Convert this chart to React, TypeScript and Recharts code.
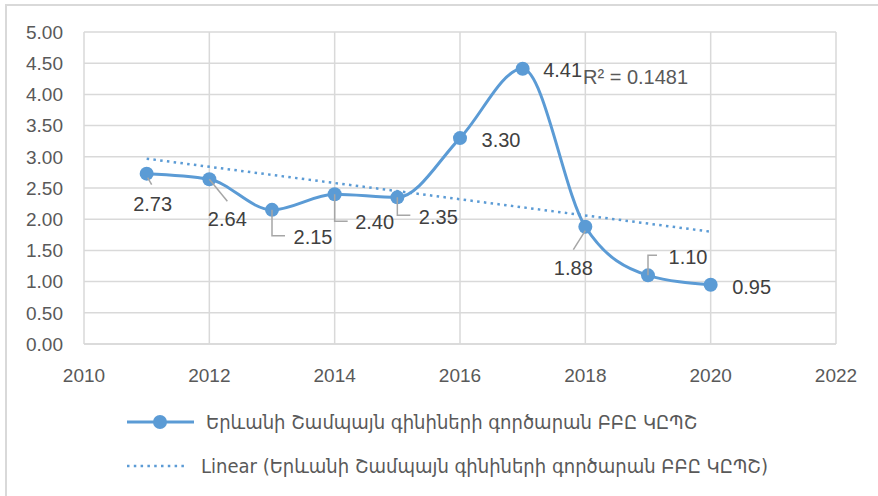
import React from "react";
import { ComposedChart, Line, XAxis, YAxis, CartesianGrid, LabelList } from "recharts";

const years = [2011, 2012, 2013, 2014, 2015, 2016, 2017, 2018, 2019, 2020];
const values = [2.73, 2.64, 2.15, 2.4, 2.35, 3.3, 4.41, 1.88, 1.1, 0.95];
const trendStart = 2.97;
const trendEnd = 1.8;
const xTicks = [2010, 2012, 2014, 2016, 2018, 2020, 2022];
const yTicks = [0, 0.5, 1, 1.5, 2, 2.5, 3, 3.5, 4, 4.5, 5];
const seriesName = "Երևանի Շամպայն գինիների գործարան ԲԲԸ ԿԸՊՇ";
const trendName = "Linear (Երևանի Շամպայն գինիների գործարան ԲԲԸ ԿԸՊՇ)";
const r2Text = "R² = 0.1481";

const data = years.map((y, i) => ({
  year: y,
  value: values[i],
  trend: i === 0 ? trendStart : i === years.length - 1 ? trendEnd : null,
}));

// label placement relative to point (pixels) and leader line polylines
const labelPos: { dx: number; dy: number; leader?: number[][] }[] = [
  { dx: 6, dy: 30, leader: [[1, 4], [5, 11]] },
  { dx: 18, dy: 40, leader: [[0, 0], [18, 22]] },
  { dx: 41, dy: 27, leader: [[0, 0], [0, 26], [13, 26]] },
  { dx: 40, dy: 28, leader: [[0, 0], [0, 27], [13, 27]] },
  { dx: 41, dy: 20, leader: [[0, 0], [0, 18], [13, 18]] },
  { dx: 41, dy: 2 },
  { dx: 40, dy: 1 },
  { dx: -12, dy: 41, leader: [[0, 4], [-12, 23]] },
  { dx: 40, dy: -18, leader: [[0, 0], [0, -20], [9, -20]] },
  { dx: 41, dy: 2 },
];

const BLUE = "#5B9BD5";
const GRID = "#d9d9d9";
const FONT = "'Liberation Sans', 'DejaVu Sans', sans-serif";
const LEGEND_FONT = "'DejaVu Sans Condensed', 'DejaVu Sans', sans-serif";

const DataLabel = (props: any) => {
  const { x, y, value, index } = props;
  const p = labelPos[index];
  if (!p || x == null || y == null) return null;
  return (
    <g>
      {p.leader && (
        <polyline
          points={p.leader.map(([a, b]) => `${x + a},${y + b}`).join(" ")}
          fill="none"
          stroke="#a6a6a6"
          strokeWidth={1.5}
        />
      )}
      <text
        x={x + p.dx}
        y={y + p.dy}
        textAnchor="middle"
        dominantBaseline="central"
        fontSize={20}
        fontFamily={FONT}
        fill="#404040"
      >
        {Number(value).toFixed(2)}
      </text>
    </g>
  );
};

export default function App() {
  return (
    <div style={{ position: "absolute", left: 0, top: 0, width: 878, height: 496, background: "#fff", overflow: "hidden" }}>
      <div
        style={{
          position: "absolute",
          left: 5,
          top: 4,
          width: 900,
          height: 520,
          borderTop: `2px solid ${GRID}`,
          borderLeft: `2px solid ${GRID}`,
        }}
      />
      <ComposedChart
        width={878}
        height={496}
        data={data}
        margin={{ top: 32, right: 42, left: 24, bottom: 112 }}
        style={{ position: "absolute", left: 0, top: 0 }}
      >
        <CartesianGrid stroke={GRID} strokeWidth={1.5} />
        <XAxis
          dataKey="year"
          type="number"
          domain={[2010, 2022]}
          ticks={xTicks}
          height={40}
          tickLine={false}
          axisLine={{ stroke: GRID, strokeWidth: 1.5 }}
          tickSize={0}
          tickMargin={25}
          tick={{ fontSize: 19, fill: "#595959", fontFamily: FONT }}
        />
        <YAxis
          type="number"
          domain={[0, 5]}
          ticks={yTicks}
          width={60}
          tickLine={false}
          axisLine={false}
          tickSize={0}
          tickMargin={21}
          tickFormatter={(v: number) => v.toFixed(2)}
          tick={{ fontSize: 19, fill: "#595959", fontFamily: FONT }}
        />
        <Line
          dataKey="trend"
          connectNulls
          stroke={BLUE}
          strokeWidth={2.5}
          strokeDasharray="2.5 4.3"
          dot={false}
          activeDot={false}
          isAnimationActive={false}
        />
        <Line
          dataKey="value"
          type="monotone"
          stroke={BLUE}
          strokeWidth={3}
          dot={{ r: 7, fill: BLUE, stroke: "none" }}
          activeDot={false}
          isAnimationActive={false}
        >
          <LabelList dataKey="value" content={<DataLabel />} />
        </Line>
      </ComposedChart>
      <div
        style={{
          position: "absolute",
          left: 583,
          top: 66,
          fontSize: 20,
          fontFamily: FONT,
          color: "#595959",
          lineHeight: "22px",
          whiteSpace: "nowrap",
        }}
      >
        {r2Text}
      </div>
      <svg width={878} height={496} style={{ position: "absolute", left: 0, top: 0, pointerEvents: "none" }}>
        <line x1={127} y1={422} x2={194} y2={422} stroke={BLUE} strokeWidth={3} />
        <circle cx={160} cy={422} r={7} fill={BLUE} />
        <text x={206} y={422} dominantBaseline="central" fontSize={20} fontFamily={LEGEND_FONT} fill="#595959">
          {seriesName}
        </text>
        <line x1={127} y1={466} x2={188} y2={466} stroke={BLUE} strokeWidth={2.5} strokeDasharray="2.5 4.3" />
        <text x={201} y={466} dominantBaseline="central" fontSize={20} fontFamily={LEGEND_FONT} fill="#595959">
          {trendName}
        </text>
      </svg>
    </div>
  );
}
